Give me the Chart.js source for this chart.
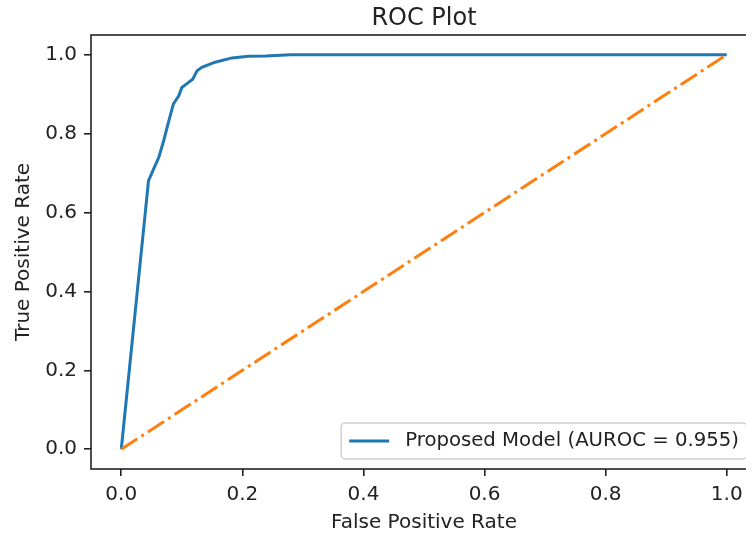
<!DOCTYPE html>
<html>
<head>
<meta charset="utf-8">
<script src="https://cdn.jsdelivr.net/npm/chart.js@4"></script>
<style>
  html, body { margin: 0; padding: 0; background: #fff; overflow: hidden; }
  #wrap { width: 790px; height: 535px; }
</style>
</head>
<body>
<div id="wrap"><canvas id="rocChart" width="790" height="535"></canvas></div>
<script>
// ROC curve points
const FPR = [0, 0.045, 0.051, 0.062, 0.070, 0.078, 0.086, 0.095, 0.100, 0.108, 0.118, 0.125, 0.133, 0.155, 0.183, 0.210, 0.238, 0.280, 1.0];
const TPR = [0, 0.681, 0.702, 0.740, 0.782, 0.829, 0.875, 0.896, 0.917, 0.926, 0.938, 0.959, 0.968, 0.981, 0.992, 0.996, 0.997, 1.0, 1.0];
// chance line
const DIAG_X = [0, 1];
const DIAG_Y = [0, 1];
const X_TICKS = [0, 0.2, 0.4, 0.6, 0.8, 1.0];
const Y_TICKS = [0, 0.2, 0.4, 0.6, 0.8, 1.0];
const MODEL_LABEL = 'Proposed Model (AUROC = 0.955)';
const TITLE = 'ROC Plot';

const FONT = '"DejaVu Sans", sans-serif';
const TXT = '#222';

function toPoints(xs, ys) {
  return xs.map(function(x, i) { return { x: x, y: ys[i] }; });
}

// title over the axes, frame (all four spines) + legend in lower right, like matplotlib
const framePlugin = {
  id: 'frameAndLegend',
  afterDraw: function(chart) {
    const c = chart.ctx, a = chart.chartArea;
    c.save();
    c.strokeStyle = TXT;
    c.lineWidth = 1.6;
    c.strokeRect(a.left, a.top, a.right - a.left, a.bottom - a.top);

    // title centred on the axes, not on the canvas
    c.fillStyle = TXT;
    c.font = '24px ' + FONT;
    c.textAlign = 'center';
    c.textBaseline = 'alphabetic';
    c.fillText(TITLE, (a.left + a.right) / 2, 25);

    // legend
    const ds = chart.data.datasets.filter(function(d) { return d.label; });
    c.textAlign = 'left';
    c.font = '19.7px ' + FONT;
    const tw = c.measureText(ds[0].label).width;
    const pad = 8, handle = 40, gap = 16;
    const w = pad + handle + gap + tw + pad;
    const h = 36;
    const x = a.right - 10 - w, y = a.bottom - 10 - h;
    c.beginPath();
    c.roundRect(x, y, w, h, 4);
    c.fillStyle = 'rgba(255,255,255,0.8)';
    c.fill();
    c.strokeStyle = '#d0d0d0';
    c.lineWidth = 1.5;
    c.stroke();
    c.beginPath();
    c.strokeStyle = ds[0].borderColor;
    c.lineWidth = 3;
    c.moveTo(x + pad, y + h / 2);
    c.lineTo(x + pad + handle, y + h / 2);
    c.stroke();
    c.fillStyle = TXT;
    c.textBaseline = 'middle';
    c.fillText(ds[0].label, x + pad + handle + gap, y + h / 2);
    c.restore();
  }
};

var ctx = document.getElementById('rocChart').getContext('2d');
var rocChart = new Chart(ctx, {
  type: 'scatter',
  data: {
    datasets: [
      {
        label: MODEL_LABEL,
        data: toPoints(FPR, TPR),
        showLine: true,
        borderColor: '#1f77b4',
        borderWidth: 3,
        pointRadius: 0,
        tension: 0,
        order: 1
      },
      {
        label: '',
        data: toPoints(DIAG_X, DIAG_Y),
        showLine: true,
        borderColor: '#ff7f0e',
        borderWidth: 3,
        borderDash: [19.2, 4.8, 3, 4.8],
        pointRadius: 0,
        order: 0
      }
    ]
  },
  options: {
    responsive: false,
    animation: false,
    layout: { padding: { left: 12, right: 33, top: 35, bottom: 0 } },
    scales: {
      x: {
        type: 'linear',
        min: -0.05,
        max: 1.05,
        afterBuildTicks: function(s) { s.ticks = X_TICKS.map(function(v) { return { value: v }; }); },
        afterFit: function(s) { s.height = 66; },
        border: { display: false },
        grid: { drawOnChartArea: false, drawTicks: true, tickLength: 7, color: TXT, lineWidth: 1.6 },
        ticks: {
          padding: 7, color: TXT, font: { family: FONT, size: 20 }, maxRotation: 0,
          callback: function(v) { return v.toFixed(1); }
        },
        title: { display: true, text: 'False Positive Rate', color: TXT, font: { family: FONT, size: 20 }, padding: 0 }
      },
      y: {
        type: 'linear',
        min: -0.05,
        max: 1.05,
        afterBuildTicks: function(s) { s.ticks = Y_TICKS.map(function(v) { return { value: v }; }); },
        afterFit: function(s) { s.width = 79; },
        border: { display: false },
        grid: { drawOnChartArea: false, drawTicks: true, tickLength: 7, color: TXT, lineWidth: 1.6 },
        ticks: {
          padding: 7, color: TXT, font: { family: FONT, size: 20 },
          callback: function(v) { return v.toFixed(1); }
        },
        title: { display: true, text: 'True Positive Rate', color: TXT, font: { family: FONT, size: 20 }, padding: 0 }
      }
    },
    plugins: {
      legend: { display: false },
      tooltip: { enabled: false },
      title: { display: false }
    }
  },
  plugins: [framePlugin]
});
</script>
</body>
</html>
